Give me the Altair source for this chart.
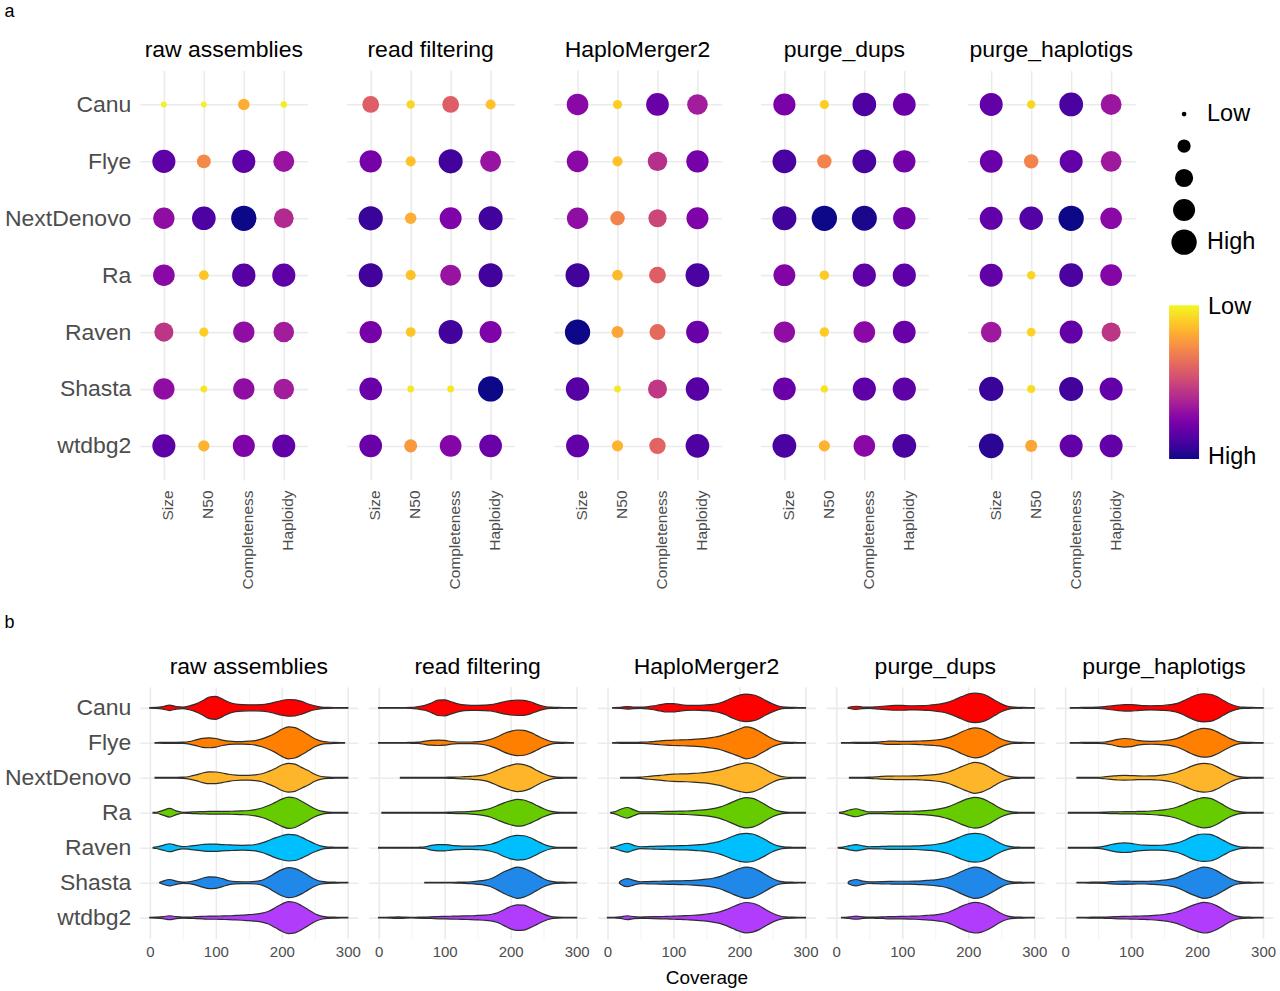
import altair as alt
import pandas as pd

ASSEMBLERS = ["Canu", "Flye", "NextDenovo", "Ra", "Raven", "Shasta", "wtdbg2"]
STAGES = ["raw assemblies", "read filtering", "HaploMerger2", "purge_dups", "purge_haplotigs"]
METRICS = ["Size", "N50", "Completeness", "Haploidy"]
VIOLIN_COLORS = ["#ff0000", "#ff7f00", "#ffb52a", "#66cc00", "#00bfff", "#1f88e8", "#b23cfc"]

# ---- part a: relative score (0 = Low, 1 = High); rows = assemblers, cols = metrics
SCORE_RAW = [
    [0.02, 0.02, 0.18, 0.03],
    [0.83, 0.28, 0.83, 0.68],
    [0.70, 0.87, 1.00, 0.60],
    [0.72, 0.12, 0.85, 0.83],
    [0.56, 0.10, 0.70, 0.65],
    [0.70, 0.04, 0.70, 0.65],
    [0.83, 0.17, 0.75, 0.82],
]
SCORE_RF = [
    [0.42, 0.08, 0.42, 0.13],
    [0.77, 0.13, 0.90, 0.68],
    [0.92, 0.18, 0.75, 0.90],
    [0.90, 0.13, 0.68, 0.90],
    [0.77, 0.12, 0.90, 0.75],
    [0.80, 0.04, 0.04, 1.00],
    [0.80, 0.24, 0.73, 0.80],
]
SCORE_HM = [
    [0.72, 0.10, 0.80, 0.65],
    [0.72, 0.13, 0.58, 0.77],
    [0.70, 0.30, 0.50, 0.75],
    [0.90, 0.15, 0.42, 0.88],
    [1.00, 0.20, 0.38, 0.80],
    [0.85, 0.04, 0.55, 0.85],
    [0.82, 0.17, 0.40, 0.87],
]
SCORE_PD = [
    [0.76, 0.10, 0.87, 0.80],
    [0.88, 0.30, 0.88, 0.78],
    [0.90, 1.00, 0.98, 0.78],
    [0.74, 0.11, 0.83, 0.83],
    [0.70, 0.11, 0.72, 0.80],
    [0.80, 0.05, 0.83, 0.83],
    [0.88, 0.17, 0.72, 0.88],
]
SCORE_PH = [
    [0.82, 0.08, 0.88, 0.67],
    [0.80, 0.30, 0.82, 0.66],
    [0.82, 0.86, 1.00, 0.72],
    [0.82, 0.08, 0.88, 0.73],
    [0.66, 0.09, 0.82, 0.56],
    [0.92, 0.07, 0.90, 0.82],
    [0.95, 0.20, 0.82, 0.82],
]

# ---- part b: violin half-widths (1 = widest) read at coverage 0,10,...,300
COVERAGE = list(range(0, 301, 10))
VIO_RAW = [
    [0.02,0.03,0.08,0.17,0.08,0.05,0.12,0.25,0.45,0.68,0.72,0.55,0.35,0.24,0.2,0.19,0.19,0.2,0.26,0.36,0.46,0.52,0.5,0.4,0.24,0.12,0.05,0.03,0.02,0.02,0.02],
    [0,0.02,0.03,0.03,0.03,0.04,0.08,0.18,0.28,0.31,0.27,0.17,0.1,0.08,0.08,0.1,0.14,0.25,0.4,0.6,0.85,1.0,0.95,0.75,0.5,0.25,0.1,0.05,0.03,0.02,0.02],
    [0,0.02,0.03,0.03,0.03,0.04,0.08,0.18,0.3,0.37,0.36,0.3,0.22,0.17,0.15,0.15,0.18,0.25,0.4,0.58,0.8,0.9,0.85,0.65,0.45,0.22,0.08,0.04,0.03,0.02,0.02],
    [0,0.03,0.15,0.27,0.12,0.03,0.04,0.06,0.07,0.08,0.08,0.08,0.09,0.1,0.12,0.14,0.2,0.3,0.45,0.65,0.85,0.98,0.92,0.72,0.48,0.25,0.1,0.04,0.03,0.02,0.02],
    [0,0.05,0.15,0.25,0.15,0.07,0.1,0.15,0.2,0.23,0.23,0.2,0.18,0.16,0.15,0.16,0.2,0.3,0.45,0.62,0.75,0.83,0.8,0.65,0.45,0.25,0.1,0.04,0.03,0.02,0.02],
    [0,0,0.1,0.2,0.1,0.04,0.06,0.15,0.28,0.37,0.35,0.25,0.12,0.07,0.06,0.06,0.08,0.15,0.35,0.6,0.82,0.94,0.88,0.7,0.45,0.22,0.08,0.04,0.03,0.02,0.02],
    [0.02,0.03,0.06,0.12,0.06,0.03,0.04,0.06,0.08,0.1,0.1,0.11,0.12,0.14,0.16,0.19,0.22,0.28,0.4,0.62,0.85,1.0,0.95,0.75,0.5,0.25,0.1,0.04,0.03,0.02,0.02],
]
VIO_RF = [
    [0.02,0.02,0.02,0.02,0.02,0.03,0.08,0.15,0.3,0.48,0.5,0.38,0.25,0.18,0.16,0.16,0.17,0.2,0.28,0.38,0.45,0.48,0.47,0.38,0.22,0.1,0.04,0.03,0.02,0.02,0.02],
    [0.02,0.02,0.02,0.02,0.02,0.03,0.04,0.1,0.15,0.17,0.15,0.08,0.05,0.05,0.05,0.07,0.12,0.22,0.38,0.58,0.72,0.8,0.78,0.65,0.45,0.25,0.1,0.04,0.03,0.02,0.02],
    [0,0,0,0,0.02,0.02,0.02,0.02,0.02,0.03,0.03,0.04,0.05,0.07,0.09,0.12,0.18,0.3,0.48,0.65,0.78,0.87,0.82,0.68,0.45,0.25,0.1,0.04,0.03,0.02,0.02],
    [0,0.02,0.02,0.03,0.02,0.02,0.02,0.02,0.03,0.03,0.03,0.04,0.05,0.06,0.08,0.12,0.18,0.28,0.45,0.62,0.75,0.84,0.8,0.65,0.45,0.25,0.1,0.04,0.03,0.02,0.02],
    [0.02,0.02,0.02,0.03,0.02,0.02,0.03,0.05,0.15,0.2,0.2,0.15,0.12,0.1,0.1,0.12,0.15,0.22,0.35,0.55,0.7,0.77,0.75,0.62,0.42,0.22,0.08,0.03,0.02,0.02,0.02],
    [0,0,0,0,0,0,0,0.02,0.02,0.02,0.02,0.02,0.03,0.04,0.06,0.1,0.15,0.25,0.45,0.68,0.85,0.98,0.9,0.72,0.48,0.25,0.1,0.04,0.03,0.02,0.02],
    [0.02,0.02,0.03,0.05,0.03,0.02,0.03,0.04,0.05,0.07,0.08,0.09,0.1,0.11,0.12,0.14,0.16,0.2,0.3,0.5,0.7,0.8,0.78,0.62,0.42,0.22,0.08,0.03,0.02,0.02,0.02],
]
VIO_HM = [
    [0,0.02,0.03,0.08,0.05,0.04,0.06,0.12,0.2,0.26,0.26,0.2,0.16,0.15,0.16,0.18,0.22,0.3,0.45,0.65,0.8,0.86,0.82,0.68,0.45,0.25,0.1,0.04,0.03,0.02,0.02],
    [0,0.02,0.03,0.03,0.03,0.04,0.05,0.08,0.12,0.15,0.17,0.18,0.19,0.21,0.24,0.28,0.34,0.42,0.55,0.7,0.86,1.0,0.92,0.72,0.48,0.25,0.1,0.04,0.03,0.02,0.02],
    [0,0,0.02,0.03,0.03,0.04,0.08,0.12,0.15,0.2,0.23,0.24,0.25,0.27,0.3,0.34,0.4,0.48,0.6,0.74,0.85,0.93,0.88,0.72,0.5,0.28,0.12,0.05,0.03,0.02,0.02],
    [0,0.05,0.22,0.33,0.18,0.05,0.05,0.06,0.07,0.08,0.09,0.1,0.11,0.13,0.16,0.2,0.26,0.35,0.5,0.68,0.85,0.95,0.9,0.72,0.48,0.25,0.1,0.04,0.03,0.02,0.02],
    [0,0.05,0.18,0.28,0.15,0.06,0.07,0.09,0.1,0.11,0.12,0.13,0.14,0.16,0.19,0.23,0.3,0.4,0.55,0.72,0.85,0.9,0.86,0.7,0.48,0.25,0.1,0.04,0.03,0.02,0.02],
    [0,0,0.1,0.25,0.15,0.06,0.07,0.08,0.09,0.1,0.11,0.12,0.13,0.15,0.18,0.22,0.28,0.38,0.54,0.72,0.88,0.98,0.92,0.74,0.5,0.26,0.1,0.04,0.03,0.02,0.02],
    [0.02,0.02,0.05,0.12,0.06,0.04,0.05,0.06,0.07,0.08,0.1,0.11,0.13,0.15,0.18,0.22,0.28,0.36,0.5,0.68,0.85,0.95,0.9,0.75,0.5,0.28,0.12,0.05,0.03,0.02,0.02],
]
VIO_PD = [
    [0,0,0.04,0.1,0.05,0.04,0.06,0.1,0.13,0.15,0.15,0.13,0.13,0.14,0.16,0.2,0.26,0.36,0.52,0.7,0.86,0.92,0.88,0.72,0.48,0.25,0.1,0.04,0.03,0.02,0.02],
    [0,0.02,0.02,0.03,0.03,0.03,0.04,0.07,0.1,0.1,0.09,0.09,0.1,0.12,0.14,0.17,0.22,0.32,0.48,0.68,0.85,0.94,0.88,0.7,0.46,0.24,0.1,0.04,0.03,0.02,0.02],
    [0,0,0.02,0.03,0.03,0.04,0.06,0.09,0.1,0.11,0.11,0.11,0.12,0.14,0.16,0.2,0.26,0.36,0.52,0.7,0.86,0.97,0.9,0.72,0.48,0.25,0.1,0.04,0.03,0.02,0.02],
    [0,0.05,0.17,0.25,0.15,0.05,0.05,0.06,0.07,0.08,0.08,0.09,0.1,0.12,0.15,0.2,0.27,0.38,0.55,0.73,0.88,0.96,0.9,0.72,0.48,0.25,0.1,0.04,0.03,0.02,0.02],
    [0,0.04,0.13,0.2,0.12,0.06,0.07,0.08,0.1,0.1,0.1,0.1,0.11,0.13,0.16,0.2,0.27,0.38,0.54,0.72,0.85,0.9,0.86,0.7,0.47,0.25,0.1,0.04,0.03,0.02,0.02],
    [0,0,0.1,0.2,0.1,0.05,0.06,0.07,0.08,0.09,0.09,0.09,0.1,0.12,0.15,0.18,0.24,0.34,0.5,0.7,0.87,0.98,0.92,0.74,0.5,0.26,0.1,0.04,0.03,0.02,0.02],
    [0,0.02,0.05,0.1,0.05,0.03,0.04,0.05,0.07,0.07,0.08,0.09,0.1,0.12,0.15,0.18,0.24,0.34,0.52,0.72,0.87,0.96,0.9,0.74,0.5,0.26,0.1,0.04,0.03,0.02,0.02],
]
VIO_PH = [
    [0,0.02,0.02,0.03,0.03,0.04,0.07,0.12,0.17,0.2,0.2,0.17,0.14,0.13,0.14,0.16,0.2,0.28,0.45,0.65,0.82,0.88,0.85,0.7,0.46,0.24,0.1,0.04,0.03,0.02,0.02],
    [0,0.02,0.02,0.03,0.03,0.03,0.05,0.12,0.22,0.27,0.24,0.15,0.1,0.09,0.1,0.13,0.18,0.28,0.45,0.65,0.82,0.9,0.86,0.7,0.48,0.26,0.1,0.04,0.03,0.02,0.02],
    [0,0,0.02,0.02,0.03,0.03,0.06,0.1,0.14,0.15,0.14,0.12,0.11,0.12,0.14,0.18,0.25,0.36,0.52,0.7,0.84,0.9,0.86,0.7,0.48,0.26,0.1,0.04,0.03,0.02,0.02],
    [0,0.02,0.02,0.02,0.02,0.03,0.04,0.05,0.06,0.07,0.07,0.08,0.09,0.11,0.14,0.18,0.25,0.36,0.52,0.7,0.85,0.95,0.9,0.72,0.48,0.25,0.1,0.04,0.03,0.02,0.02],
    [0,0.02,0.02,0.03,0.03,0.04,0.1,0.2,0.27,0.3,0.27,0.2,0.16,0.15,0.15,0.17,0.22,0.3,0.45,0.65,0.8,0.86,0.83,0.68,0.46,0.24,0.1,0.04,0.03,0.02,0.02],
    [0,0,0.02,0.02,0.03,0.03,0.04,0.07,0.09,0.1,0.09,0.08,0.08,0.1,0.12,0.16,0.22,0.32,0.5,0.7,0.86,0.98,0.92,0.74,0.5,0.26,0.1,0.04,0.03,0.02,0.02],
    [0,0,0.02,0.02,0.03,0.03,0.04,0.05,0.07,0.08,0.09,0.1,0.11,0.13,0.16,0.2,0.27,0.37,0.54,0.72,0.86,0.96,0.9,0.74,0.5,0.26,0.1,0.04,0.03,0.02,0.02],
]
# first / last coverage value of each violin (rows = assemblers)
START_RAW = [0, 8, 8, 5, 5, 15, 0]
START_RF = [0, 0, 33, 5, 0, 70, 0]
START_HM = [8, 8, 20, 5, 5, 18, 0]
START_PD = [18, 8, 20, 5, 3, 18, 8]
START_PH = [8, 8, 18, 5, 5, 18, 18]
END_RAW = [300, 295, 300, 300, 300, 300, 300]
END_RF = [300, 295, 300, 300, 300, 300, 300]
END_HM = [300, 300, 300, 300, 300, 300, 300]
END_PD = [300, 300, 300, 300, 300, 300, 300]
END_PH = [300, 300, 300, 300, 300, 300, 300]

FONT = "Liberation Sans"

# ---------- build tables ----------
rows_a = []
for st, arr in zip(STAGES, [SCORE_RAW, SCORE_RF, SCORE_HM, SCORE_PD, SCORE_PH]):
    for i, a in enumerate(ASSEMBLERS):
        for j, m in enumerate(METRICS):
            rows_a.append({"stage": st, "assembler": a, "metric": m,
                           "score": arr[i][j], "score_c": arr[i][j]})
dfa = pd.DataFrame(rows_a)

rows_b = []
for st, vio, starts, ends in zip(
        STAGES, [VIO_RAW, VIO_RF, VIO_HM, VIO_PD, VIO_PH],
        [START_RAW, START_RF, START_HM, START_PD, START_PH],
        [END_RAW, END_RF, END_HM, END_PD, END_PH]):
    for i, a in enumerate(ASSEMBLERS):
        r = len(ASSEMBLERS) - i
        s, e = starts[i], ends[i]
        if s not in COVERAGE:
            rows_b.append({"stage": st, "assembler": a, "row": r, "cov": s, "w": 0.02})
        for c, w in zip(COVERAGE, vio[i]):
            if s <= c <= e:
                rows_b.append({"stage": st, "assembler": a, "row": r, "cov": c, "w": max(w, 0.02)})
        if e not in COVERAGE:
            rows_b.append({"stage": st, "assembler": a, "row": r, "cov": e, "w": 0.02})
dfb = pd.DataFrame(rows_b)

# ---------- part a ----------
grid_axis = dict(ticks=False, domain=False, grid=True, gridColor="#ebebeb", gridWidth=1.6)

pts = alt.Chart(dfa).mark_circle(opacity=1).encode(
    x=alt.X("metric:N", sort=METRICS, scale=alt.Scale(type="point", padding=0.6),
            axis=alt.Axis(title=None, labelAngle=270, labelFontSize=15.5, labelColor="#4d4d4d",
                          labelPadding=10, labelAlign="right", labelBaseline="middle", labelOffset=4,
                          **grid_axis)),
    y=alt.Y("assembler:N", sort=ASSEMBLERS, scale=alt.Scale(type="point", padding=0.6),
            axis=alt.Axis(title=None, labelFontSize=23, labelColor="#4d4d4d", labelPadding=9, **grid_axis)),
    size=alt.Size("score:Q", scale=alt.Scale(range=[22, 640]),
                  legend=alt.Legend(title=None, values=[0, 0.25, 0.5, 0.75, 1],
                                    labelExpr="datum.value == 0 ? 'Low' : (datum.value == 1 ? 'High' : '')",
                                    symbolType="circle", symbolFillColor="black", symbolStrokeWidth=0,
                                    symbolOpacity=1, labelFontSize=23.5, labelColor="black", labelOffset=10,
                                    rowPadding=7, orient="none", legendX=1032, legendY=32, padding=0)),
    color=alt.Color("score_c:Q", scale=alt.Scale(scheme="plasma", domain=[1, 0]),
                    legend=alt.Legend(title=None, values=[0.012, 0.988], direction="vertical",
                                      labelExpr="datum.value < 0.5 ? 'Low' : 'High'",
                                      labelBaseline="middle",
                                      gradientLength=154, gradientThickness=30, labelFontSize=23.5,
                                      labelColor="black", labelOffset=9, orient="none",
                                      legendX=1030, legendY=235, padding=0)),
).properties(width=168, height=410)

partA = pts.facet(
    column=alt.Column("stage:N", sort=STAGES,
                      header=alt.Header(title=None, labelFontSize=23, labelColor="black", labelPadding=8)),
    spacing=39,
).properties(title=alt.TitleParams("a", anchor="start", fontSize=18, fontWeight="normal", offset=18))

# ---------- part b ----------
vio = alt.Chart(dfb).transform_calculate(
    top="datum.row + datum.w * 0.457",
    bot="datum.row - datum.w * 0.457",
).mark_area(orient="vertical", interpolate="monotone", stroke="#2e2e2e", strokeWidth=1.2, opacity=1).encode(
    x=alt.X("cov:Q", scale=alt.Scale(domain=[-15, 315], nice=False, zero=False),
            axis=alt.Axis(title=None, values=list(range(0, 301, 50)),
                          labelExpr="datum.value % 100 === 0 ? datum.label : ''",
                          labelFontSize=15, labelColor="#4d4d4d", labelPadding=6, labelOverlap=False,
                          ticks=False, domain=False, grid=True,
                          gridColor={"condition": {"test": "datum.value % 100 === 0", "value": "#ebebeb"}, "value": "#f3f3f3"},
                          gridWidth={"condition": {"test": "datum.value % 100 === 0", "value": 1.6}, "value": 1.0})),
    y=alt.Y("top:Q", scale=alt.Scale(domain=[0.4, 7.6], nice=False, zero=False),
            axis=alt.Axis(title=None, values=[1, 2, 3, 4, 5, 6, 7],
                          labelExpr="['', 'wtdbg2', 'Shasta', 'Raven', 'Ra', 'NextDenovo', 'Flye', 'Canu'][datum.value]",
                          labelFontSize=23, labelColor="#4d4d4d", labelPadding=9, **grid_axis)),
    y2="bot:Q",
    color=alt.Color("assembler:N", scale=alt.Scale(domain=ASSEMBLERS, range=VIOLIN_COLORS), legend=None),
).properties(width=218, height=252)

partB = vio.facet(
    column=alt.Column("stage:N", sort=STAGES,
                      header=alt.Header(title=None, labelFontSize=23, labelColor="black", labelPadding=8)),
    spacing=11,
).properties(title=alt.TitleParams("Coverage", orient="bottom", anchor="middle", frame="bounds", dx=67,
                                   fontSize=19, fontWeight="normal", offset=9))

partB_wrap = alt.vconcat(partB).properties(
    title=alt.TitleParams("b", anchor="start", fontSize=18, fontWeight="normal", offset=24))

chart = alt.vconcat(partA, partB_wrap, spacing=24).properties(
    padding={"left": 4, "top": 3, "right": 4, "bottom": 2}
).configure(font=FONT, background="white").configure_view(strokeWidth=0).configure_title(
    font=FONT, color="black")

chart.save("out.html", embed_options={"renderer": "svg", "actions": False})
